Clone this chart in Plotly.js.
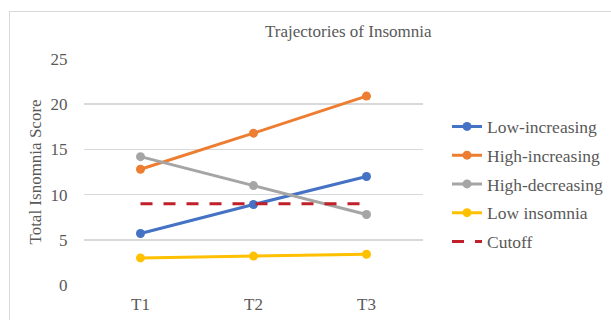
<!DOCTYPE html>
<html>
<head>
<meta charset="utf-8">
<script src="https://cdn.plot.ly/plotly-3.0.1.min.js"></script>
<style>
  html, body { margin: 0; padding: 0; background: #fff; }
  #wrap { position: relative; width: 611px; height: 320px; }
  #chart { width: 611px; height: 320px; }
  #frame { position: absolute; left: 9px; top: 11px; width: 610px; height: 320px;
           border: 1px solid #d9d9d9; pointer-events: none; }
</style>
</head>
<body>
<div id="wrap">
  <div id="chart"></div>
  <div id="frame"></div>
</div>
<script>
// Measurement waves
const waves = ['T1', 'T2', 'T3'];

// Mean insomnia score per trajectory class
const lowIncreasing  = [5.7, 8.9, 12.0];
const highIncreasing = [12.8, 16.8, 20.9];
const highDecreasing = [14.2, 11.0, 7.8];
const lowInsomnia    = [3.0, 3.2, 3.4];
const cutoff         = [9, 9, 9];

const seriesNames = ['Low-increasing', 'High-increasing', 'High-decreasing', 'Low insomnia', 'Cutoff'];
const seriesColors = ['#4472C4', '#ED7D31', '#A5A5A5', '#FFC000', '#C0202A'];
const seriesValues = [lowIncreasing, highIncreasing, highDecreasing, lowInsomnia, cutoff];

const traces = seriesValues.map((vals, i) => {
  const isCutoff = i === 4;
  return {
    x: waves,
    y: vals,
    name: seriesNames[i],
    legendgroup: 'g' + i,
    type: 'scatter',
    mode: isCutoff ? 'lines' : 'lines+markers',
    line: { color: seriesColors[i], width: 3, dash: isCutoff ? '12px,11px' : 'solid' },
    marker: { color: seriesColors[i], size: 9 },
    hoverinfo: 'skip'
  };
});

const font = { family: '"Liberation Serif", "Times New Roman", serif', color: '#595959' };

const layout = {
  width: 611,
  height: 320,
  margin: { l: 84, r: 188, t: 59, b: 35, autoexpand: false },
  paper_bgcolor: '#fff',
  plot_bgcolor: '#fff',
  font: Object.assign({ size: 17 }, font),
  showlegend: true,
  title: {
    text: 'Trajectories of Insomnia',
    font: Object.assign({}, font, { size: 17 }),
    x: 0.57, xref: 'container', xanchor: 'center',
    y: 0.903, yref: 'container', yanchor: 'middle'
  },
  xaxis: {
    type: 'category',
    range: [-0.5, 2.5],
    showgrid: false,
    zeroline: false,
    showline: false,
    ticks: 'outside', ticklen: 4, tickcolor: 'rgba(0,0,0,0)',
    tickfont: Object.assign({}, font, { size: 17 }),
    fixedrange: true
  },
  yaxis: {
    range: [0, 25],
    tickvals: [0, 5, 10, 15, 20, 25],
    showgrid: true,
    gridcolor: '#d9d9d9',
    gridwidth: 1.5,
    zeroline: false,
    showline: false,
    ticks: 'outside', ticklen: 12, tickcolor: 'rgba(0,0,0,0)',
    tickfont: Object.assign({}, font, { size: 17 }),
    title: { text: 'Total Isnomnia Score', font: Object.assign({}, font, { size: 17 }), standoff: 4 },
    fixedrange: true
  },
  legend: {
    xref: 'container', x: 0.7316, xanchor: 'left',
    yref: 'container', y: 0.425, yanchor: 'middle',
    font: Object.assign({}, font, { size: 17.5 }),
    traceorder: 'grouped',
    tracegroupgap: 3,
    itemwidth: 30,
    bgcolor: 'rgba(0,0,0,0)'
  }
};

Plotly.newPlot('chart', traces, layout, { staticPlot: true, displayModeBar: false });
</script>
</body>
</html>
